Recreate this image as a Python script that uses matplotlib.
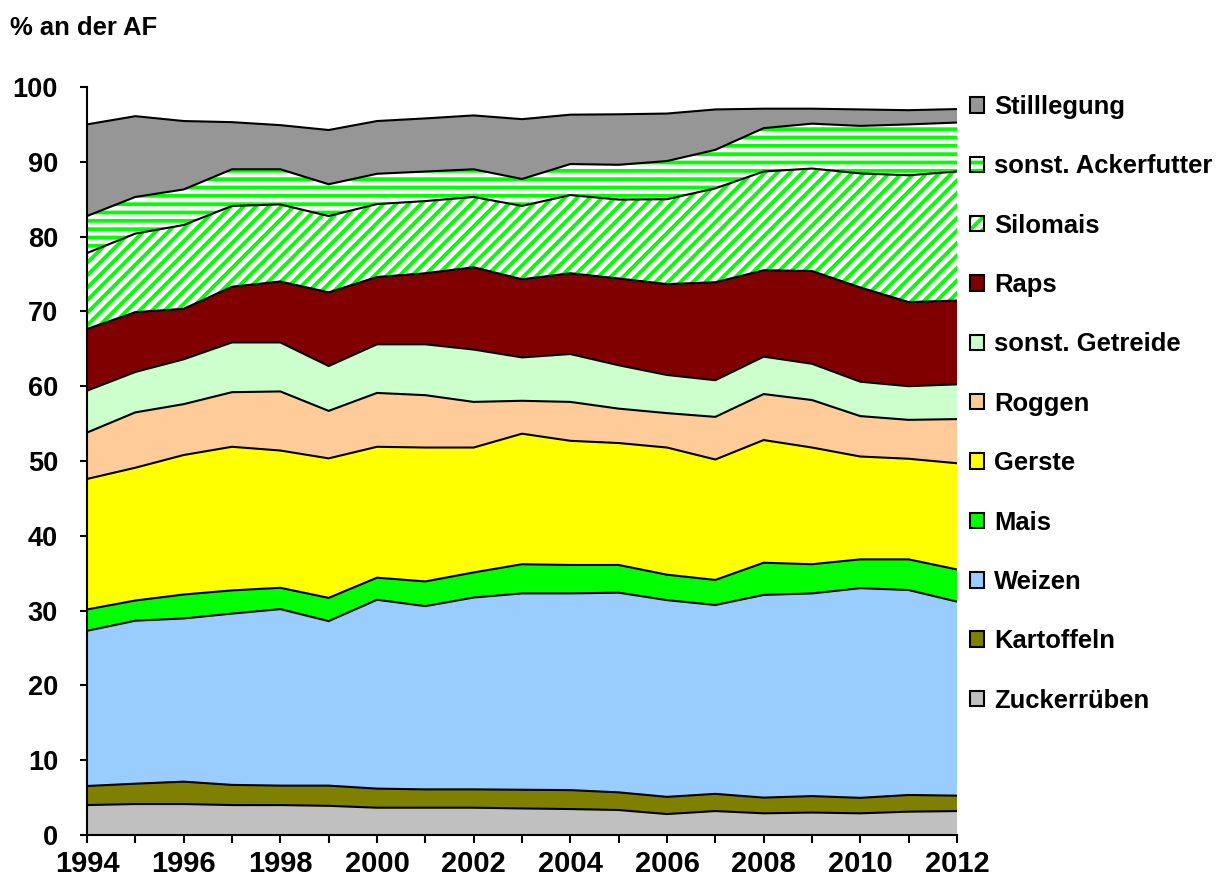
import numpy as np
import matplotlib
matplotlib.use("Agg")
import matplotlib.pyplot as plt
from matplotlib.patches import Patch
from matplotlib.legend_handler import HandlerTuple

years = np.arange(1994, 2013)

# share of arable land (%), per crop
zuckerrueben = [4.0, 4.14, 4.14, 4.0, 4.0, 3.9, 3.65, 3.65, 3.65, 3.55, 3.47, 3.34, 2.8, 3.2, 2.9, 3.0, 2.9, 3.12, 3.2]
kartoffeln = [2.55, 2.72, 2.99, 2.7, 2.6, 2.7, 2.55, 2.45, 2.45, 2.5, 2.53, 2.36, 2.3, 2.3, 2.1, 2.2, 2.07, 2.23, 2.06]
weizen = [20.75, 21.79, 21.82, 22.9, 23.6, 22.0, 25.25, 24.5, 25.65, 26.25, 26.3, 26.7, 26.3, 25.25, 27.1, 27.1, 28.03, 27.4, 25.94]
mais = [2.85, 2.7, 3.2, 3.1, 2.85, 3.1, 2.95, 3.3, 3.35, 3.9, 3.8, 3.7, 3.4, 3.35, 4.3, 3.9, 3.85, 4.1, 4.3]
gerste = [17.45, 17.75, 18.65, 19.2, 18.35, 18.65, 17.5, 17.9, 16.7, 17.45, 16.6, 16.3, 17.0, 16.1, 16.4, 15.6, 13.75, 13.45, 14.2]
roggen = [6.2, 7.4, 6.8, 7.3, 7.9, 6.35, 7.2, 7.0, 6.1, 4.4, 5.2, 4.6, 4.6, 5.7, 6.15, 6.35, 5.4, 5.2, 5.9]
sonst_getreide = [5.6, 5.4, 6.0, 6.65, 6.55, 6.0, 6.5, 6.8, 7.0, 5.8, 6.4, 5.8, 5.1, 4.9, 5.0, 4.85, 4.6, 4.5, 4.65]
raps = [8.25, 8.0, 6.75, 7.45, 8.15, 9.85, 9.0, 9.5, 11.0, 10.45, 10.8, 11.6, 12.15, 13.1, 11.55, 12.4, 12.6, 11.25, 11.2]
silomais = [10.15, 10.5, 11.2, 10.8, 10.3, 10.2, 9.75, 9.65, 9.4, 9.8, 10.45, 10.55, 11.35, 12.55, 13.2, 13.7, 15.25, 16.95, 17.25]
ackerfutter = [4.95, 4.9, 4.75, 4.9, 4.7, 4.25, 4.05, 3.95, 3.7, 3.6, 4.15, 4.65, 5.1, 5.15, 5.8, 6.0, 6.35, 6.8, 6.55]
stilllegung = [12.25, 10.8, 9.15, 6.3, 5.9, 7.25, 7.05, 7.1, 7.2, 8.0, 6.6, 6.75, 6.35, 5.4, 2.6, 2.0, 2.2, 1.9, 1.8]

labels = ["Zuckerrüben", "Kartoffeln", "Weizen", "Mais", "Gerste", "Roggen",
          "sonst. Getreide", "Raps", "Silomais", "sonst. Ackerfutter", "Stilllegung"]
series = [zuckerrueben, kartoffeln, weizen, mais, gerste, roggen,
          sonst_getreide, raps, silomais, ackerfutter, stilllegung]
colors = ["#c0c0c0", "#808000", "#99ccff", "#00ff00", "#ffff00", "#ffcc99",
          "#ccffcc", "#800000", "white", "white", "#969696"]
hatches = [None] * 8 + ["////", "---", None]

plt.rcParams["font.family"] = ["Liberation Sans", "DejaVu Sans"]
plt.rcParams["font.weight"] = "bold"
plt.rcParams["hatch.linewidth"] = 1.8

DPI = 150
fig = plt.figure(figsize=(1229 / DPI, 892 / DPI), dpi=DPI)
ax = fig.add_axes([87 / 1229, 57 / 892, 870 / 1229, 748 / 892])

tops = np.cumsum(np.array(series, dtype=float), axis=0)
bottoms = np.vstack([np.zeros(len(years)), tops[:-1]])

handles = []
for i in range(len(series)):
    if hatches[i]:
        ax.fill_between(years, bottoms[i], tops[i], facecolor="white",
                        edgecolor="#00ff00", hatch=hatches[i], linewidth=0)
        h = (Patch(facecolor="white", edgecolor="#00ff00", hatch=hatches[i], linewidth=0),
             Patch(facecolor="none", edgecolor="black", linewidth=1.0))
    else:
        ax.fill_between(years, bottoms[i], tops[i], facecolor=colors[i], linewidth=0)
        h = Patch(facecolor=colors[i], edgecolor="black", linewidth=1.0)
    ax.plot(years, tops[i], color="black", linewidth=1.0)
    handles.append(h)

ax.set_xlim(1994, 2012)
ax.set_ylim(0, 100)
ax.set_yticks(np.arange(0, 101, 10))
ax.set_xticks(years)
ax.set_xticklabels([str(y) if y % 2 == 0 else "" for y in years])
for s in ["top", "right"]:
    ax.spines[s].set_visible(False)
ax.spines["left"].set_linewidth(1.0)
ax.spines["bottom"].set_linewidth(1.0)
ax.tick_params(axis="y", direction="out", length=3.4, width=1.0, pad=10.5, labelsize=13)
ax.tick_params(axis="x", direction="out", length=3.8, width=1.0, pad=3.5, labelsize=14)

fig.text(10 / 1229, 1 - 28 / 892, "% an der AF", fontsize=12.3, fontweight="bold",
         va="center", ha="left")

ax.legend(handles[::-1], labels[::-1], loc="upper left",
          bbox_to_anchor=(970 / 1229, 1 - 95 / 892), bbox_transform=fig.transFigure,
          frameon=False, fontsize=12.3, handlelength=0.55, handleheight=0.55,
          handletextpad=0.4, labelspacing=1.38, borderpad=0, borderaxespad=0,
          handler_map={tuple: HandlerTuple(ndivide=1)})

fig.savefig("out.png", dpi=DPI)
